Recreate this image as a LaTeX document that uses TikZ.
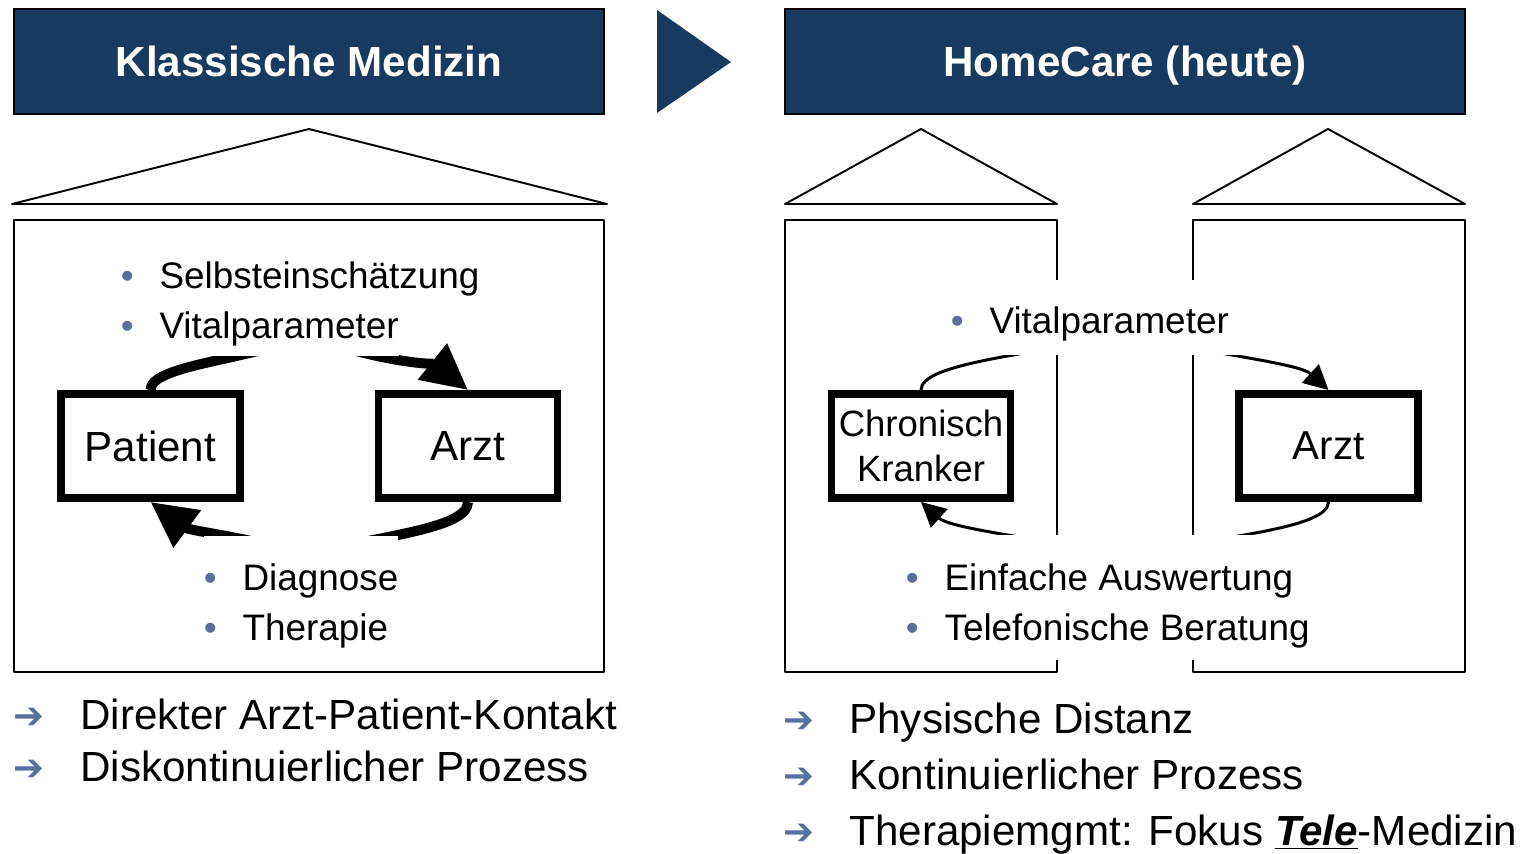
\documentclass[tikz,border=0pt]{standalone}
\usepackage{fontspec}
\setmainfont{Liberation Sans}
\newfontfamily\symfont{DejaVu Sans}
\usetikzlibrary{arrows.meta}

\definecolor{navy}{RGB}{23,58,96}
\definecolor{dotblue}{RGB}{91,111,154}
\definecolor{arrowblue}{RGB}{88,112,160}
\newcommand{\bitem}[1]{\makebox[22pt][l]{\textcolor{dotblue}{•}}#1}

\tikzset{
  header/.style={draw=black, line width=1.2pt, fill=navy, text=white,
    text height=17.2pt, text depth=0pt,
    font=\fontsize{24}{28}\selectfont\bfseries},
  house/.style={line width=1.1pt, line join=round},
  actor/.style={draw, line width=4.5pt, fill=white, minimum width=3.58cm,
    minimum height=2.08cm, inner sep=0pt, font=\fontsize{24}{28}\selectfont},
  flowthick/.style={line width=5.7pt, -{Triangle[length=26pt,width=25pt]}},
  flowthin/.style={line width=1.7pt, -{Triangle[length=14pt,width=14pt]}},
  listline/.style={fill=white, anchor=base west, inner xsep=0pt, inner ysep=0pt,
    font=\fontsize{21}{25}\selectfont},
  outline/.style={anchor=base west, inner sep=0pt, font=\fontsize{24}{28}\selectfont},
  outarrow/.style={text=arrowblue, inner sep=0pt, font=\symfont\fontsize{21}{21}\selectfont}
}

\begin{document}
\begin{tikzpicture}[x=0.02cm, y=-0.02cm]
  \useasboundingbox (0,0) rectangle (1524,853);

  % Headers
  \node[header, minimum width=11.8cm, minimum height=2.1cm] (klassisch) at (309,61.5) {Klassische Medizin};
  \fill[navy] (657,10) -- (731,62) -- (657,113) -- cycle;
  \node[header, minimum width=13.6cm, minimum height=2.1cm] (homecare) at (1125,61.5) {HomeCare (heute)};

  % Houses
  \draw[house] (12,204) -- (309,129) -- (607,204) -- cycle;
  \draw[house] (14,220) rectangle (604,672);
  \draw[house] (785,204) -- (921,129) -- (1057,204) -- cycle;
  \draw[house] (785,220) rectangle (1057,672);
  \draw[house] (1193,204) -- (1328,129) -- (1465,204) -- cycle;
  \draw[house] (1193,220) rectangle (1465,672);

  % Actors
  \node[actor] (patient) at (150.5,446) {Patient};
  \node[actor] (arztl) at (468,446) {Arzt};
  \node[actor, align=center, font=\fontsize{20.8}{26}\selectfont] (kranker) at (921,446) {Chronisch\\Kranker};
  \node[actor, font=\fontsize{23}{28}\selectfont] (arztr) at (1328.5,446) {Arzt};

  % Flows (their middle part runs under the white lists)
  \draw[flowthick] (patient.north) .. controls (150,365) and (250,360) .. (309,335)
    .. controls (368,360) and (438,366) .. (arztl.north);
  \draw[flowthick] (arztl.south) .. controls (468,530) and (372,536) .. (309,555)
    .. controls (240,536) and (190,531) .. (patient.south);
  \draw[flowthin] (kranker.north) .. controls (921,364) and (1020,356) .. (1124,335)
    .. controls (1228,356) and (1300,364) .. (arztr.north);
  \draw[flowthin] (arztr.south) .. controls (1328,528) and (1228,536) .. (1124,555)
    .. controls (1020,536) and (950,528) .. (kranker.south);

  % Lists
  \node[listline, text height=18pt, text depth=11pt] (selbst) at (120.5,288) {\bitem{Selbsteinschätzung}};
  \node[listline, text height=18pt, text depth=10.2pt] (vitall) at (120.5,338) {\bitem{Vitalparameter}};
  \node[listline, text height=30.6pt, text depth=11.3pt] (diagnose) at (203.5,590) {\bitem{Diagnose}};
  \node[listline, text height=18.1pt, text depth=11.3pt] (therapie) at (203.5,640) {\bitem{Therapie}};
  \node[listline, inner xsep=8pt, text height=30pt, text depth=12.5pt] (vitalr) at (936.5,333) {\bitem{Vitalparameter}};
  \node[listline, text height=31.2pt, text depth=11.3pt] (auswertung) at (905.5,590) {\bitem{Einfache Auswertung}};
  \node[listline, text height=18.1pt, text depth=11.3pt] (beratung) at (905.5,640) {\bitem{Telefonische Beratung}};

  % Conclusions
  \node[outarrow] (pfeil1) at (28.5,718) {➔};
  \node[outline] (kontakt) at (80,729) {Direkter Arzt-Patient-Kontakt};
  \node[outarrow] (pfeil2) at (28.5,770) {➔};
  \node[outline] (diskont) at (80,781) {Diskontinuierlicher Prozess};
  \node[outarrow] (pfeil3) at (799,722) {➔};
  \node[outline] (distanz) at (849,733) {Physische Distanz};
  \node[outarrow] (pfeil4) at (799,778) {➔};
  \node[outline] (kontin) at (849,789) {Kontinuierlicher Prozess};
  \node[outarrow] (pfeil5) at (799,834) {➔};
  \node[outline] (telemed) at (849,845) {Therapiemgmt: Fokus \underline{\textbf{\textit{Tele}}}-Medizin};
\end{tikzpicture}
\end{document}
